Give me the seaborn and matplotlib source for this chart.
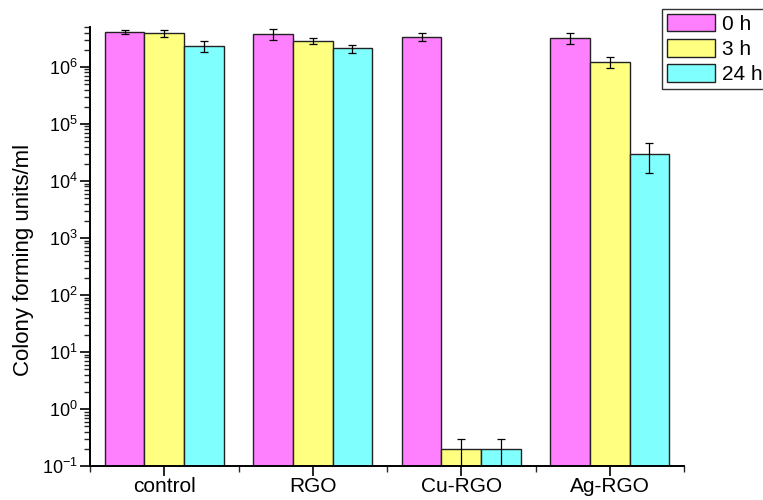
import numpy as np
import pandas as pd
import matplotlib
matplotlib.use("Agg")
import matplotlib.pyplot as plt
import seaborn as sns
from matplotlib.ticker import FixedLocator, NullFormatter, FuncFormatter

sns.set_style("ticks")
plt.rcParams['font.family'] = ['Liberation Sans', 'DejaVu Sans']
plt.rcParams['mathtext.fontset'] = 'custom'
plt.rcParams['mathtext.rm'] = 'Liberation Sans'
plt.rcParams['mathtext.it'] = 'Liberation Sans:italic'
plt.rcParams['mathtext.bf'] = 'Liberation Sans:bold'
plt.rcParams['text.color'] = 'black'
plt.rcParams['axes.labelcolor'] = 'black'

# Data
samples = ["control", "RGO", "Cu-RGO", "Ag-RGO"]
times = ["0 h", "3 h", "24 h"]
cfu_0h = [4.1e6, 3.75e6, 3.4e6, 3.25e6]
cfu_3h = [3.85e6, 2.85e6, 0.2, 1.21e6]
cfu_24h = [2.33e6, 2.1e6, 0.2, 2.98e4]
err_0h = [0.3e6, 0.8e6, 0.6e6, 0.7e6]
err_3h = [0.55e6, 0.3e6, 0.1, 0.25e6]
err_24h = [0.48e6, 0.35e6, 0.1, 1.6e4]
y_exponents = [-1, 0, 1, 2, 3, 4, 5, 6]

colors = ["#FF80FF", "#FFFF80", "#80FFFF"]

df = pd.DataFrame({
    "sample": samples * 3,
    "time": [t for t in times for _ in samples],
    "cfu": cfu_0h + cfu_3h + cfu_24h,
})
errors = [err_0h, err_3h, err_24h]

fig = plt.figure(figsize=(7.63, 5.0), dpi=100)
ax = fig.add_axes([90 / 763, 34 / 500, 594 / 763, 439 / 500])
ax.set_yscale("log")

sns.barplot(data=df, x="sample", y="cfu", hue="time", palette=colors,
            width=0.8, edgecolor="#222222", linewidth=1.0, errorbar=None,
            saturation=1, ax=ax)

# error bars
for cont, errs in zip(ax.containers, errors):
    for bar, e in zip(cont, errs):
        xc = bar.get_x() + bar.get_width() / 2
        ax.errorbar(xc, bar.get_height(), yerr=e, fmt="none", ecolor="black",
                    elinewidth=0.9, capsize=3, capthick=0.9)

ax.set_ylim(0.1, 5e6)
ax.set_xlim(-0.5, 3.5)
ax.set_xlabel(None)
ax.set_ylabel("Colony forming units/ml", fontsize=16)
ax.yaxis.set_label_coords(-0.094, 0.47)

major = [10.0 ** e for e in y_exponents]
minor = [m * 10.0 ** e for e in y_exponents for m in range(2, 10) if m * 10.0 ** e <= 5e6]
ax.yaxis.set_major_locator(FixedLocator(major))
ax.yaxis.set_major_formatter(FuncFormatter(lambda v, p: r"$10^{%d}$" % round(np.log10(v))))
ax.yaxis.set_minor_locator(FixedLocator(minor))
ax.yaxis.set_minor_formatter(NullFormatter())
ax.xaxis.set_minor_locator(FixedLocator([-0.5, 0.5, 1.5, 2.5, 3.5]))

ax.tick_params(axis="both", which="major", direction="out", length=7, width=1.2,
               colors="black")
ax.tick_params(axis="both", which="minor", direction="out", length=4, width=1.0)
ax.tick_params(axis="x", which="major", labelsize=15, pad=1)
ax.tick_params(axis="y", which="major", labelsize=13, pad=2)

for side in ["top", "right"]:
    ax.spines[side].set_visible(False)
for side in ["left", "bottom"]:
    ax.spines[side].set_linewidth(1.4)
    ax.spines[side].set_color("black")

handles, labels = ax.get_legend_handles_labels()
leg = ax.legend(handles, labels, loc="upper left",
                bbox_to_anchor=(662 / 763, 1 - 9 / 500),
                bbox_transform=fig.transFigure, fontsize=15,
                frameon=True, fancybox=False, edgecolor="black",
                handlelength=2.3, handleheight=0.9, borderpad=0.25,
                labelspacing=0.25, handletextpad=0.35, borderaxespad=0)
leg.get_frame().set_linewidth(1.0)

fig.savefig("out.png", dpi=100)
